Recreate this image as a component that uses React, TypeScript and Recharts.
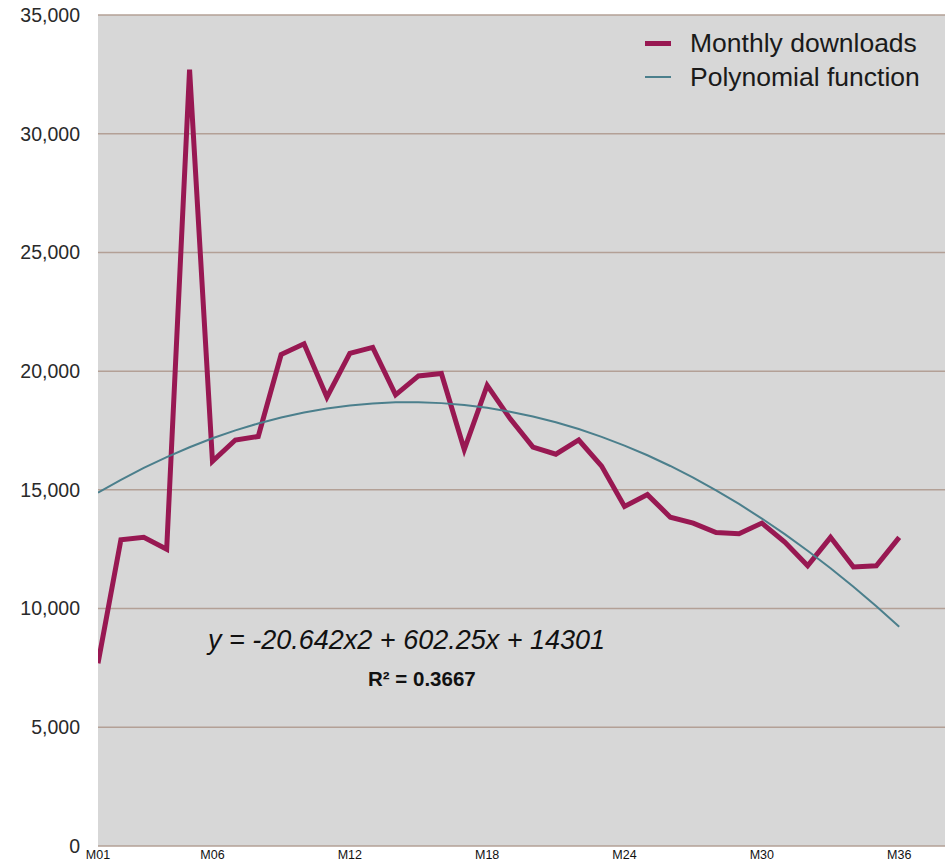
import React from "react";
import {
  LineChart,
  Line,
  XAxis,
  YAxis,
  CartesianGrid,
} from "recharts";

const months: number[] = [
  1, 2, 3, 4, 5, 6, 7, 8, 9, 10, 11, 12, 13, 14, 15, 16, 17, 18,
  19, 20, 21, 22, 23, 24, 25, 26, 27, 28, 29, 30, 31, 32, 33, 34, 35, 36,
];

const monthlyDownloads: number[] = [
  7700, 12900, 13000, 12500, 32700, 16200, 17100, 17250, 20700, 21150,
  18900, 20750, 21000, 19000, 19800, 19900, 16700, 19400, 18000, 16800,
  16500, 17100, 16000, 14300, 14800, 13850, 13600, 13200, 13150, 13600,
  12800, 11800, 13000, 11750, 11800, 13000,
];

const polynomialTrend: number[] = [
  14883, 15423, 15922, 16380, 16796, 17171, 17505, 17798, 18049, 18259,
  18428, 18556, 18642, 18687, 18690, 18653, 18574, 18454, 18292, 18089,
  17845, 17560, 17233, 16865, 16456, 16006, 15514, 14981, 14406, 13791,
  13134, 12436, 11696, 10915, 10093, 9230,
];

const xTicks: number[] = [1, 6, 12, 18, 24, 30, 36];
const yTicks: number[] = [0, 5000, 10000, 15000, 20000, 25000, 30000, 35000];

const seriesNames = ["Monthly downloads", "Polynomial function"];
const equationText = "y = -20.642x2 + 602.25x + 14301";
const r2Text = "R² = 0.3667";

const data = months.map((m, i) => ({
  m,
  downloads: monthlyDownloads[i],
  trend: polynomialTrend[i],
}));

const FONT = "'Liberation Sans', Arial, Helvetica, sans-serif";
const DOWNLOAD_COLOR = "#981852";
const TREND_COLOR = "#4b7f8c";

const legendItems = [
  { name: seriesNames[0], color: DOWNLOAD_COLOR, w: 5 },
  { name: seriesNames[1], color: TREND_COLOR, w: 2 },
];

export default function App() {
  return (
    <div
      style={{
        position: "absolute",
        left: 0,
        top: 0,
        width: 945,
        height: 865,
        background: "#ffffff",
      }}
    >
      <LineChart
        width={945}
        height={865}
        data={data}
        margin={{ top: 15, right: 0, bottom: 0, left: 0 }}
      >
        <CartesianGrid
          horizontal
          vertical={false}
          fill="#d7d7d7"
          stroke="#b3a096"
          strokeWidth={1.5}
        />
        <XAxis
          dataKey="m"
          type="number"
          domain={[1, 38]}
          ticks={xTicks}
          allowDataOverflow
          axisLine={false}
          tickLine={false}
          tickSize={0}
          tickMargin={4}
          height={19}
          interval={0}
          tickFormatter={(v: number) => "M" + String(v).padStart(2, "0")}
          tick={{ fontFamily: FONT, fontSize: 12.5, fill: "#111111" }}
        />
        <YAxis
          type="number"
          domain={[0, 35000]}
          ticks={yTicks}
          width={98}
          axisLine={false}
          tickLine={false}
          tickSize={0}
          tickMargin={18}
          interval={0}
          tickFormatter={(v: number) => v.toLocaleString("en-US")}
          tick={{ fontFamily: FONT, fontSize: 19.5, fill: "#2a2a2a" }}
        />
        <Line
          type="linear"
          dataKey="downloads"
          name={seriesNames[0]}
          stroke={DOWNLOAD_COLOR}
          strokeWidth={5}
          dot={false}
          activeDot={false}
          isAnimationActive={false}
        />
        <Line
          type="linear"
          dataKey="trend"
          name={seriesNames[1]}
          stroke={TREND_COLOR}
          strokeWidth={2}
          dot={false}
          activeDot={false}
          isAnimationActive={false}
        />
      </LineChart>
      <div
        style={{
          position: "absolute",
          left: 645,
          top: 26,
          fontFamily: FONT,
          fontSize: 26.5,
          color: "#1a1a1a",
        }}
      >
        {legendItems.map((e) => (
          <div
            key={e.name}
            style={{ display: "flex", alignItems: "center", height: 34 }}
          >
            <div
              style={{
                width: 26,
                height: e.w,
                background: e.color,
                marginRight: 19,
              }}
            />
            <span style={{ lineHeight: "34px", whiteSpace: "nowrap" }}>
              {e.name}
            </span>
          </div>
        ))}
      </div>
      <div
        style={{
          position: "absolute",
          left: 208,
          top: 623,
          fontFamily: FONT,
          fontStyle: "italic",
          fontSize: 27,
          color: "#111111",
          whiteSpace: "nowrap",
          lineHeight: "34px",
        }}
      >
        {equationText}
      </div>
      <div
        style={{
          position: "absolute",
          left: 368,
          top: 667,
          fontFamily: FONT,
          fontWeight: "bold",
          fontSize: 20.5,
          color: "#111111",
          whiteSpace: "nowrap",
          lineHeight: "24px",
        }}
      >
        {r2Text}
      </div>
    </div>
  );
}
